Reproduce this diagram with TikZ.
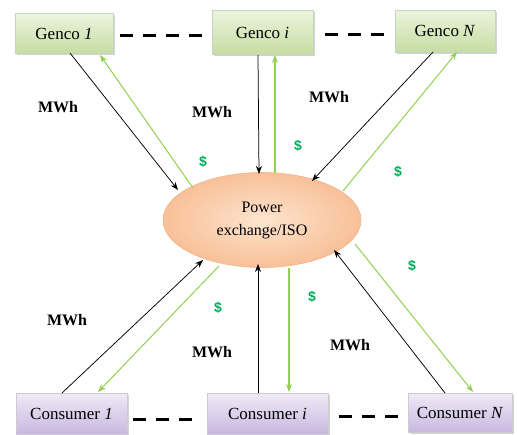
\documentclass[tikz,border=0pt]{standalone}
\usepackage{fontspec}
\setmainfont{Liberation Serif}
\newfontfamily\dollarfont{Liberation Sans}
\usetikzlibrary{arrows.meta,shadows,shapes.geometric}
\definecolor{arrgreen}{RGB}{146,208,80}
\definecolor{dolgreen}{RGB}{0,170,90}
\tikzset{
  genbox/.style={draw=green!20!gray!40, line width=0.4pt, top color={rgb,255:red,236;green,244;blue,222}, bottom color={rgb,255:red,198;green,221;blue,162},
    minimum height=40pt, inner sep=0pt, font=\fontsize{17}{19}\selectfont,
    drop shadow={shadow xshift=1.5pt, shadow yshift=-1.5pt, opacity=0.35}},
  conbox/.style={draw=gray!40, line width=0.4pt, top color={rgb,255:red,240;green,234;blue,247}, bottom color={rgb,255:red,200;green,184;blue,224},
    minimum height=41pt, inner sep=0pt, font=\fontsize{17}{19}\selectfont,
    drop shadow={shadow xshift=1.5pt, shadow yshift=-1.5pt, opacity=0.35}},
  isonode/.style={ellipse, draw={rgb,255:red,242;green,180;blue,140}, line width=0.6pt,
    inner color={rgb,255:red,253;green,228;blue,206}, outer color={rgb,255:red,248;green,192;blue,152},
    minimum width=198pt, minimum height=95pt, align=center, font=\fontsize{16}{23}\selectfont},
  mwharrow/.style={-{Stealth[length=8pt,width=6pt]}, black, line width=0.75pt},
  moneyarrow/.style={-{Stealth[length=8pt,width=6pt]}, arrgreen, line width=1pt},
  vmoneyarrow/.style={moneyarrow, line width=1.4pt},
  mwhlabel/.style={font=\fontsize{16}{18}\selectfont\bfseries},
  dollabel/.style={font=\dollarfont\fontsize{14}{16}\selectfont\bfseries, text=dolgreen},
  dashline/.style={line width=3pt, dash pattern=on 13pt off 10pt},
}
\begin{document}
\begin{tikzpicture}[x=1pt,y=-1pt]
\useasboundingbox (0,0) rectangle (517,434);
% boxes
\node[genbox, minimum width=98pt] (g1) at (64,33.5) {Genco \textit{1}};
\node[genbox, minimum width=101pt, minimum height=44pt] (gi) at (262.5,32.5) {Genco \textit{i}};
\node[genbox, minimum width=100pt, minimum height=42pt] (gn) at (445,31) {Genco \textit{N}};
\node[conbox, minimum width=111pt] (c1) at (71.5,413.5) {Consumer \textit{1}};
\node[conbox, minimum width=121pt] (ci) at (267.5,413.5) {Consumer \textit{i}};
\node[conbox, minimum width=104pt, minimum height=39pt] (cn) at (460,412.5) {Consumer \textit{N}};
\node[isonode] (iso) at (262,220) {Power\\exchange/ISO};
% dashed links
\coordinate (d1a) at (120,35); \coordinate (d1b) at (206,35);
\coordinate (d2a) at (325,34); \coordinate (d2b) at (390,34);
\coordinate (d3a) at (133,419); \coordinate (d3b) at (195,419);
\coordinate (d4a) at (339,416); \coordinate (d4b) at (403,416);
\draw[dashline] (d1a) -- (d1b);
\draw[dashline] (d2a) -- (d2b);
\draw[dashline] (d3a) -- (d3b);
\draw[dashline] (d4a) -- (d4b);
% connection points
\coordinate (g1b) at (70,53);   \coordinate (iso1) at (178,190);
\coordinate (iso2) at (193,188); \coordinate (g1g) at (100,55);
\coordinate (gib) at (258,55);  \coordinate (iso3) at (259,174);
\coordinate (iso4) at (275,173); \coordinate (gig) at (275,55);
\coordinate (gnb) at (433,52);  \coordinate (iso5) at (312,181);
\coordinate (iso6) at (343,191); \coordinate (gng) at (457,52);
\coordinate (c1t) at (62,393);  \coordinate (iso7) at (203,260);
\coordinate (iso8) at (219,266); \coordinate (c1g) at (98,392);
\coordinate (cit) at (258,393); \coordinate (iso9) at (258,264);
\coordinate (iso10) at (289,268); \coordinate (cig) at (289,392);
\coordinate (cnt) at (445,393); \coordinate (iso11) at (334,250);
\coordinate (iso12) at (355,244); \coordinate (cng) at (473,392);
% arrows
\draw[mwharrow] (g1b) -- (iso1);
\draw[moneyarrow] (iso2) -- (g1g);
\draw[mwharrow] (gib) -- (iso3);
\draw[vmoneyarrow] (iso4) -- (gig);
\draw[mwharrow] (gnb) -- (iso5);
\draw[moneyarrow] (iso6) -- (gng);
\draw[mwharrow] (c1t) -- (iso7);
\draw[moneyarrow] (iso8) -- (c1g);
\draw[mwharrow] (cit) -- (iso9);
\draw[vmoneyarrow] (iso10) -- (cig);
\draw[mwharrow] (cnt) -- (iso11);
\draw[moneyarrow] (iso12) -- (cng);
% labels
\node[mwhlabel] (m1) at (58,107) {MWh};
\node[mwhlabel] (m2) at (212,112) {MWh};
\node[mwhlabel] (m3) at (329,97) {MWh};
\node[mwhlabel] (m4) at (67,320) {MWh};
\node[mwhlabel] (m5) at (212,352) {MWh};
\node[mwhlabel] (m6) at (350,345) {MWh};
\node[dollabel] (s1) at (203,162) {\$};
\node[dollabel] (s2) at (298,146) {\$};
\node[dollabel] (s3) at (398,172) {\$};
\node[dollabel] (s4) at (218,308) {\$};
\node[dollabel] (s5) at (312,297) {\$};
\node[dollabel] (s6) at (412,266) {\$};
\end{tikzpicture}
\end{document}
